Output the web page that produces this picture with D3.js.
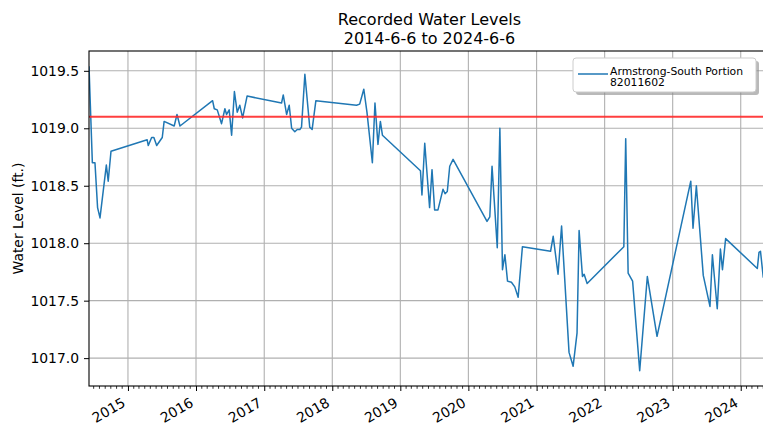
<!DOCTYPE html>
<html>
<head>
<meta charset="utf-8">
<script src="https://cdn.jsdelivr.net/npm/d3@7"></script>
<style>
body { margin: 0; background: #fff; overflow: hidden; }
svg text { font-family: "DejaVu Sans", sans-serif; fill: #000; }
</style>
</head>
<body>
<svg id="chart"></svg>
<script>
const titleLines = ["Recorded Water Levels", "2014-6-6 to 2024-6-6"];
const rangeStart = "2014-06-06";
const rangeEnd = "2024-06-06";
const legendLines = ["Armstrong-South Portion", "82011602"];
const yLabel = "Water Level (ft.)";
const threshold = 1019.1;
const yTicks = [1017.0, 1017.5, 1018.0, 1018.5, 1019.0, 1019.5];

const dates = [
  "2014-06-06", "2014-06-24", "2014-07-08", "2014-07-22", "2014-08-04", "2014-09-07", "2014-09-17", "2014-10-02",
  "2015-04-14", "2015-04-20", "2015-05-08", "2015-05-20", "2015-06-04", "2015-07-04", "2015-07-14", "2015-09-06",
  "2015-09-21", "2015-10-07", "2016-03-30", "2016-04-08", "2016-04-24", "2016-05-17", "2016-06-04", "2016-06-13",
  "2016-06-27", "2016-07-10", "2016-07-25", "2016-08-09", "2016-08-23", "2016-09-07", "2016-10-01", "2017-04-04",
  "2017-04-13", "2017-05-01", "2017-05-15", "2017-05-28", "2017-06-14", "2017-06-27", "2017-07-11", "2017-07-20",
  "2017-08-07", "2017-09-02", "2017-09-15", "2017-10-05", "2018-05-11", "2018-05-28", "2018-06-19", "2018-07-06",
  "2018-08-04", "2018-08-18", "2018-09-03", "2018-09-16", "2018-09-27", "2019-04-19", "2019-04-27", "2019-05-12",
  "2019-06-07", "2019-06-20", "2019-07-04", "2019-07-22", "2019-08-18", "2019-08-29", "2019-09-10", "2019-09-23",
  "2019-10-11", "2020-04-10", "2020-04-25", "2020-05-07", "2020-06-04", "2020-06-18", "2020-07-02", "2020-07-15",
  "2020-07-29", "2020-08-19", "2020-09-06", "2020-09-24", "2020-10-17", "2021-03-17", "2021-03-31", "2021-04-26",
  "2021-05-15", "2021-06-24", "2021-07-16", "2021-08-06", "2021-08-17", "2021-09-04", "2021-09-13", "2021-09-29",
  "2022-04-14", "2022-04-24", "2022-05-07", "2022-05-31", "2022-07-08", "2022-08-18", "2022-10-09", "2023-04-08",
  "2023-04-20", "2023-05-08", "2023-06-14", "2023-07-20", "2023-08-02", "2023-08-28", "2023-09-14", "2023-09-25",
  "2023-10-12", "2024-03-30", "2024-04-08", "2024-04-16", "2024-05-01"
];
const levels = [
  1019.54, 1018.70, 1018.70, 1018.31, 1018.22, 1018.68, 1018.54, 1018.80,
  1018.90, 1018.85, 1018.92, 1018.92, 1018.85, 1018.92, 1019.06, 1019.02,
  1019.12, 1019.02, 1019.24, 1019.17, 1019.16, 1019.04, 1019.17, 1019.12,
  1019.16, 1018.94, 1019.32, 1019.14, 1019.20, 1019.09, 1019.28, 1019.22,
  1019.29, 1019.12, 1019.20, 1019.00, 1018.97, 1018.99, 1018.99, 1019.01,
  1019.47, 1019.01, 1018.99, 1019.24, 1019.20, 1019.21, 1019.34, 1019.14,
  1018.70, 1019.22, 1018.86, 1019.06, 1018.94, 1018.63, 1018.42, 1018.87,
  1018.31, 1018.64, 1018.29, 1018.29, 1018.47, 1018.43, 1018.45, 1018.67,
  1018.73, 1018.19, 1018.23, 1018.67, 1017.96, 1019.00, 1017.77, 1017.90,
  1017.67, 1017.66, 1017.62, 1017.53, 1017.97, 1017.93, 1018.06, 1017.73,
  1018.15, 1017.05, 1016.93, 1017.22, 1018.11, 1017.71, 1017.73, 1017.65,
  1017.97, 1018.91, 1017.74, 1017.67, 1016.89, 1017.71, 1017.19, 1018.54,
  1018.13, 1018.50, 1017.72, 1017.45, 1017.90, 1017.43, 1017.95, 1017.77,
  1018.04, 1017.78, 1017.92, 1017.93, 1017.70
];

const width = 763;
const height = 425;
const margin = { top: 51, right: -7, bottom: 39, left: 89 };
const svg = d3.select("#chart").attr("width", width).attr("height", height);

const parse = d3.timeParse("%Y-%m-%d");
const data = dates.map((d, i) => ({ date: parse(d), level: levels[i] }));

const x0 = margin.left, x1 = width - margin.right;
const y0 = margin.top, y1 = height - margin.bottom;

const x = d3.scaleTime().domain([parse(rangeStart), parse(rangeEnd)]).range([x0, x1]);
const ext = d3.extent(levels);
const pad = (ext[1] - ext[0]) * 0.05;
const y = d3.scaleLinear().domain([ext[0] - pad, ext[1] + pad]).range([y1, y0]);

const years = x.ticks(d3.timeYear.every(1)).filter(d => d > x.domain()[0]);
const months = d3.timeMonth.range(x.domain()[0], x.domain()[1]).filter(d => d.getMonth() !== 0);

svg.append("defs").append("clipPath").attr("id", "clip")
  .append("rect").attr("x", x0).attr("y", y0).attr("width", x1 - x0).attr("height", y1 - y0);

// grid
const grid = svg.append("g");
grid.selectAll(".gx").data(years).enter().append("line")
  .attr("x1", d => x(d)).attr("x2", d => x(d)).attr("y1", y0).attr("y2", y1)
  .attr("stroke", "#b0b0b0").attr("stroke-width", 1.1);
grid.selectAll(".gy").data(yTicks).enter().append("line")
  .attr("x1", x0).attr("x2", x1).attr("y1", d => y(d)).attr("y2", d => y(d))
  .attr("stroke", "#b0b0b0").attr("stroke-width", 1.1);

// series
const line = d3.line().x(d => x(d.date)).y(d => y(d.level));
svg.append("path").datum(data).attr("clip-path", "url(#clip)")
  .attr("d", line).attr("fill", "none").attr("stroke", "#1f77b4")
  .attr("stroke-width", 1.5).attr("stroke-linejoin", "round");

svg.append("line").attr("clip-path", "url(#clip)")
  .attr("x1", x0).attr("x2", x1).attr("y1", y(threshold)).attr("y2", y(threshold))
  .attr("stroke", "#ff2a2a").attr("stroke-opacity", 0.9).attr("stroke-width", 2);

// axes
const xAxis = svg.append("g").attr("transform", `translate(0,${y1})`)
  .call(d3.axisBottom(x).tickValues(years).tickSize(5).tickFormat(""));
xAxis.select(".domain").remove();
xAxis.selectAll("line").attr("stroke", "#000");
svg.append("g").attr("transform", `translate(0,${y1})`)
  .selectAll("line").data(months).enter().append("line")
  .attr("x1", d => x(d)).attr("x2", d => x(d)).attr("y1", 0).attr("y2", 2.8)
  .attr("stroke", "#000").attr("stroke-width", 0.8);

svg.append("g").selectAll("text").data(years).enter().append("text")
  .attr("transform", d => `translate(${x(d) - 1.5},${y1 + 19.5}) rotate(-30)`)
  .attr("text-anchor", "end").style("font-size", "13.9px")
  .text(d3.timeFormat("%Y"));

const yAxis = svg.append("g").attr("transform", `translate(${x0},0)`)
  .call(d3.axisLeft(y).tickValues(yTicks).tickSize(5).tickPadding(5).tickFormat(d3.format(".1f")));
yAxis.select(".domain").remove();
yAxis.selectAll("line").attr("stroke", "#000");
yAxis.selectAll("text").style("font-size", "13.9px").style("font-family", "DejaVu Sans").attr("fill", "#000");

// frame
svg.append("rect").attr("x", x0).attr("y", y0).attr("width", x1 - x0).attr("height", y1 - y0)
  .attr("fill", "none").attr("stroke", "#000").attr("stroke-width", 1.1);

// labels
svg.append("text").attr("transform", `translate(18,${(y0 + y1) / 2}) rotate(-90)`)
  .attr("text-anchor", "middle").attr("dominant-baseline", "central")
  .style("font-size", "13.9px").text(yLabel);

svg.selectAll(".title").data(titleLines).enter().append("text")
  .attr("x", (x0 + x1) / 2).attr("y", (d, i) => 25 + i * 19)
  .attr("text-anchor", "middle").style("font-size", "16px").text(d => d);

// legend
const lg = svg.append("g").attr("transform", "translate(573,58)");
lg.append("rect").attr("x", 3).attr("y", 3).attr("width", 183).attr("height", 34).attr("rx", 3)
  .attr("fill", "#8a8a8a").attr("opacity", 0.6);
lg.append("rect").attr("x", 0).attr("y", 0).attr("width", 183).attr("height", 34).attr("rx", 3)
  .attr("fill", "#fff").attr("stroke", "#ccc").attr("stroke-width", 1);
lg.append("line").attr("x1", 5).attr("x2", 35).attr("y1", 16).attr("y2", 16)
  .attr("stroke", "#1f77b4").attr("stroke-width", 1.5);
lg.selectAll(".lt").data(legendLines).enter().append("text")
  .attr("x", 37).attr("y", (d, i) => 16.5 + i * 11.5)
  .style("font-size", "10.8px").text(d => d);
</script>
</body>
</html>
